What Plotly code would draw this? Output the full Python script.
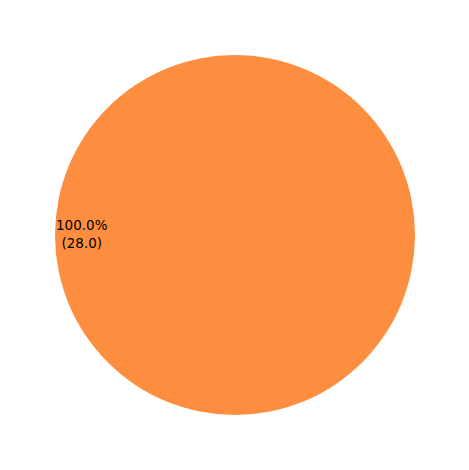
import plotly.graph_objects as go

# datos del grafico
labels = ["A"]
values = [28.0]
colores = ["#fd8e3f"]

total = sum(values)
texto = "%.1f%%<br>(%.1f)" % (values[0] / total * 100, values[0])

# la pagina agrega 8px de margen al body
off = 8

fig = go.Figure()
fig.add_trace(go.Pie(labels=labels, values=values, textinfo='none', sort=False,
                     marker=dict(colors=colores, line=dict(width=0)),
                     domain=dict(x=[(55 - off)/469, (415 - off)/469],
                                 y=[1 - (415 - off)/470, 1 - (55 - off)/470]),
                     hoverinfo='none', showlegend=False))

fig.add_annotation(x=(82 - off)/469, y=1 - (234 - off)/470, xref='paper', yref='paper',
                   xanchor='center', yanchor='middle',
                   text=texto, showarrow=False, align='center',
                   font=dict(family='DejaVu Sans', size=13.5, color='black'))

fig.update_layout(width=469, height=470, margin=dict(l=0, r=0, t=0, b=0),
                  paper_bgcolor='white', plot_bgcolor='white')

fig.write_html("out.html")
